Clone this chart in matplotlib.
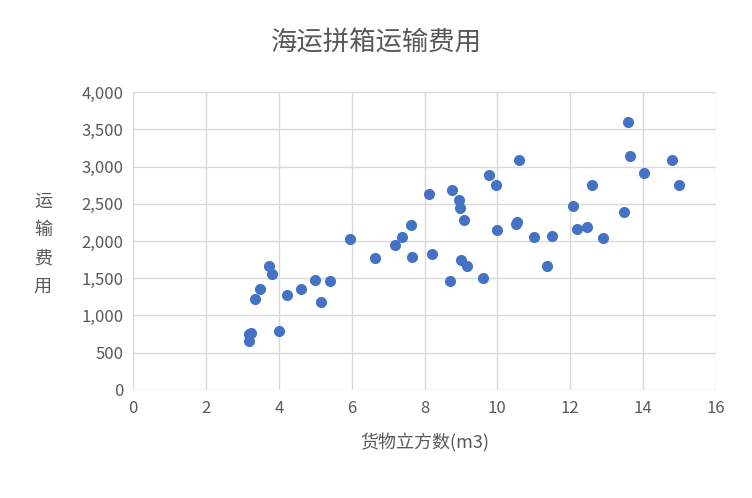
import matplotlib.pyplot as plt
from matplotlib.ticker import FuncFormatter

plt.rcParams['font.family'] = ['Noto Sans CJK SC', 'DejaVu Sans']

# 货物立方数 / 运输费用
volume = [3.18, 3.18, 3.24, 3.35, 3.48, 3.73, 3.81, 4.0, 4.23, 4.61, 4.99, 5.16, 5.41,
          5.95, 6.64, 7.19, 7.38, 7.63, 7.65, 8.12, 8.2, 8.7, 8.75, 8.95, 8.97, 9.0,
          9.08, 9.17, 9.6, 9.77, 9.96, 9.99, 10.5, 10.54, 10.59, 11.0, 11.36, 11.5,
          12.07, 12.2, 12.46, 12.6, 12.9, 13.47, 13.58, 13.64, 14.02, 14.79, 14.98]
cost = [660, 750, 765, 1220, 1355, 1665, 1560, 790, 1275, 1355, 1475, 1180, 1465,
        2025, 1770, 1945, 2055, 2215, 1785, 2630, 1825, 1465, 2685, 2550, 2445, 1745,
        2285, 1665, 1500, 2885, 2750, 2150, 2230, 2255, 3090, 2055, 1665, 2065,
        2470, 2160, 2190, 2750, 2040, 2390, 3600, 3140, 2910, 3090, 2750]

grey = '#595959'
fig = plt.figure(figsize=(7.52, 4.98), dpi=100)
ax = fig.add_axes([0.177, 0.217, 0.775, 0.598])
ax.scatter(volume, cost, s=64, color='#4472C4', zorder=3, linewidths=0)

ax.set_xlim(0, 16)
ax.set_ylim(0, 4000)
ax.set_xticks(range(0, 17, 2))
ax.set_yticks(range(0, 4001, 500))
ax.yaxis.set_major_formatter(FuncFormatter(lambda v, p: f'{int(v):,}'))
ax.grid(True, color='#D9D9D9', linewidth=1)
ax.set_axisbelow(True)
for s in ax.spines.values():
    s.set_visible(False)
ax.tick_params(length=0, labelsize=12, colors=grey, pad=7)

ax.set_xlabel('货物立方数(m3)', fontsize=13, color=grey, labelpad=12)
fig.text(0.057, 0.51, '运\n输\n费\n用', fontsize=13, color=grey, ha='center', va='center',
         linespacing=1.75)
fig.text(0.5, 0.915, '海运拼箱运输费用', fontsize=19, color=grey, ha='center', va='center')

fig.savefig('out.png', dpi=100)
